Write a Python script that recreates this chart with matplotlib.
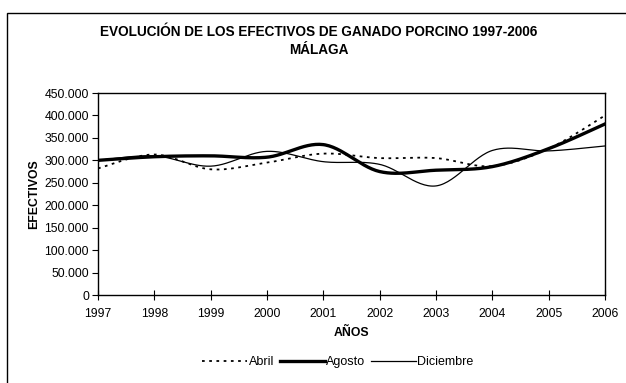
import numpy as np
import matplotlib.pyplot as plt
from matplotlib.patches import Rectangle
from matplotlib.ticker import FuncFormatter

plt.rcParams['font.family'] = ['Liberation Sans', 'DejaVu Sans']

years = [1997, 1998, 1999, 2000, 2001, 2002, 2003, 2004, 2005, 2006]
abril = [282000, 313000, 280000, 295000, 315000, 305000, 305000, 287000, 326000, 400000]
agosto = [300000, 308000, 310000, 307000, 335000, 275000, 278000, 286000, 326000, 381000]
diciembre = [300000, 310000, 287000, 320000, 297000, 291000, 243000, 322000, 321000, 332000]


def smooth(xs, ys, n=30):
    # bezier smoothing between points (same kind of curve as a spreadsheet "smoothed line")
    p = np.column_stack([xs, ys]).astype(float)
    p = np.vstack([p[0], p, p[-1]])
    out = []
    for i in range(1, len(p) - 2):
        p0, p1, p2, p3 = p[i - 1], p[i], p[i + 1], p[i + 2]
        b1 = p1 + (p2 - p0) / 6
        b2 = p2 - (p3 - p1) / 6
        t = np.linspace(0, 1, n)[:, None]
        seg = ((1 - t) ** 3) * p1 + 3 * ((1 - t) ** 2) * t * b1 + 3 * (1 - t) * t ** 2 * b2 + t ** 3 * p2
        out.append(seg if i == 1 else seg[1:])
    s = np.vstack(out)
    return s[:, 0], s[:, 1]


fig = plt.figure(figsize=(6.26, 3.83), dpi=100)
# chart-area frame, runs off the right and bottom edges
fig.patches.append(Rectangle((7 / 626, -0.05), 1.0, 1.05 - 13 / 383, transform=fig.transFigure,
                             fill=False, edgecolor='black', linewidth=1.0))

ax = fig.add_axes([98 / 626, 1 - 295 / 383, 507 / 626, 202 / 383])

x, y = smooth(years, abril)
ax.plot(x, y, color='black', linewidth=1.3, linestyle=(0, (1.5, 2.5)), label='Abril')
x, y = smooth(years, agosto)
ax.plot(x, y, color='black', linewidth=2.4, label='Agosto')
x, y = smooth(years, diciembre)
ax.plot(x, y, color='black', linewidth=0.9, label='Diciembre')

ax.set_xlim(1997, 2006)
ax.set_ylim(0, 450000)
ax.set_xticks(years)
ax.set_yticks(np.arange(0, 450001, 50000))
ax.yaxis.set_major_formatter(FuncFormatter(lambda v, _: f'{int(v):,}'.replace(',', '.')))
ax.tick_params(axis='x', direction='inout', length=7, width=0.8, labelsize=8.8, pad=6)
ax.tick_params(axis='y', direction='out', length=4, width=0.8, labelsize=8.8, pad=2.5)
for s in ax.spines.values():
    s.set_linewidth(1.0)

ax.set_xlabel('AÑOS', fontsize=8.8, fontweight='bold', labelpad=5)
ax.set_ylabel('EFECTIVOS', fontsize=8.8, fontweight='bold', labelpad=3)

fig.text(319 / 626, 1 - 32 / 383, 'EVOLUCIÓN DE LOS EFECTIVOS DE GANADO PORCINO 1997-2006',
         ha='center', va='center', fontsize=9.8, fontweight='bold')
fig.text(319 / 626, 1 - 50 / 383, 'MÁLAGA', ha='center', va='center', fontsize=9.8, fontweight='bold')

fig.legend(loc='center', bbox_to_anchor=(338 / 626, 1 - 362 / 383), ncol=3, frameon=False,
           fontsize=9, handlelength=3.6, handletextpad=0.15, columnspacing=0.4)

fig.savefig('out.png', dpi=100)
